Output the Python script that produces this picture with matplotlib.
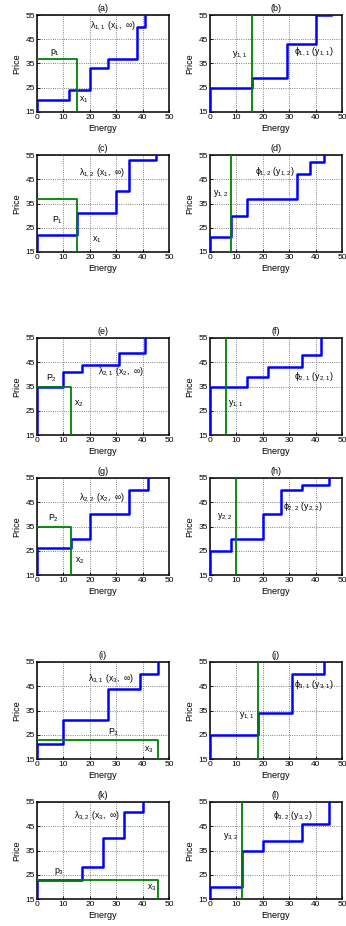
import matplotlib
matplotlib.use("Agg")
from matplotlib import pyplot as plt

plt.rcParams['font.family'] = ['Liberation Sans', 'DejaVu Sans']
plt.rcParams['mathtext.default'] = 'regular'
plt.rcParams['mathtext.fontset'] = 'dejavusans'

# supply / demand step curves: energy break points and price levels (steps-post)
a_energy = [0, 0, 12, 20, 27, 38, 41]
a_price = [15, 20, 24, 33, 37, 50, 55]
b_energy = [0, 0, 16, 29, 40, 46]
b_price = [15, 25, 29, 43, 55, 55]
c_energy = [0, 0, 15, 30, 35, 45]
c_price = [15, 22, 31, 40, 53, 55]
d_energy = [0, 0, 8, 14, 33, 38, 43]
d_price = [15, 21, 30, 37, 47, 52, 55]
e_energy = [0, 0, 10, 17, 31, 41]
e_price = [15, 35, 41, 44, 49, 55]
f_energy = [0, 0, 14, 22, 35, 42]
f_price = [15, 35, 39, 43, 48, 55]
g_energy = [0, 0, 13, 20, 35, 42]
g_price = [15, 26, 30, 40, 50, 55]
h_energy = [0, 0, 8, 20, 27, 35, 45]
h_price = [15, 25, 30, 40, 50, 52, 55]
i_energy = [0, 0, 10, 27, 39, 46]
i_price = [15, 21, 31, 44, 50, 55]
j_energy = [0, 0, 18, 31, 43]
j_price = [15, 25, 34, 50, 55]
k_energy = [0, 0, 17, 25, 33, 40]
k_price = [15, 23, 28, 40, 51, 55]
l_energy = [0, 0, 12, 20, 35, 45]
l_price = [15, 20, 35, 39, 46, 55]

# bids (energy x, price p) for the left column, cleared quantity y for the right
bid_x = [15, 15, 13, 13, 46, 46]
bid_p = [37, 37, 35, 35, 23, 23]
cleared_y = [16, 8, 6, 10, 18, 12]

titles = ['(a)', '(b)', '(c)', '(d)', '(e)', '(f)',
          '(g)', '(h)', '(i)', '(j)', '(k)', '(l)']
curves = [(a_energy, a_price), (b_energy, b_price), (c_energy, c_price),
          (d_energy, d_price), (e_energy, e_price), (f_energy, f_price),
          (g_energy, g_price), (h_energy, h_price), (i_energy, i_price),
          (j_energy, j_price), (k_energy, k_price), (l_energy, l_price)]

# text labels: (text, x, y)
left_labels = [
    [(r'$p_1$', 5, 39.5), (r'$x_1$', 16, 20), (r'$\lambda_{1,1}\ (x_1,\ \infty)$', 20, 50.5)],
    [(r'$P_1$', 5.5, 28), (r'$x_1$', 21, 20), (r'$\lambda_{1,2}\ (x_1,\ \infty)$', 16, 47.5)],
    [(r'$P_2$', 3.5, 38.5), (r'$x_2$', 14, 28), (r'$\lambda_{2,1}\ (x_2,\ \infty)$', 23, 41)],
    [(r'$P_2$', 4, 38.5), (r'$x_2$', 14.5, 21), (r'$\lambda_{2,2}\ (x_2,\ \infty)$', 16, 47)],
    [(r'$P_3$', 27, 26), (r'$x_3$', 40.5, 19), (r'$\lambda_{3,1}\ (x_3,\ \infty)$', 19.5, 48)],
    [(r'$p_3$', 6.5, 26.5), (r'$x_3$', 41.5, 19.5), (r'$\lambda_{3,2}\ (x_3,\ \infty)$', 14, 49.5)],
]
right_labels = [
    [(r'$y_{1,1}$', 8.5, 38.5), (r'$\phi_{1,1}\ (y_{1,1})$', 32, 40)],
    [(r'$y_{1,2}$', 1, 39), (r'$\phi_{1,2}\ (y_{1,2})$', 17, 48)],
    [(r'$y_{1,1}$', 7, 28), (r'$\phi_{2,1}\ (y_{2,1})$', 32, 39)],
    [(r'$y_{2,2}$', 2.5, 39), (r'$\phi_{2,2}\ (y_{2,2})$', 27.5, 43)],
    [(r'$y_{1,1}$', 11, 33), (r'$\phi_{3,1}\ (y_{3,1})$', 32, 45.5)],
    [(r'$y_{3,2}$', 5, 40.5), (r'$\phi_{3,2}\ (y_{3,2})$', 24, 49.5)],
]

W, H = 346, 926
fig = plt.figure(figsize=(W / 100, H / 100), dpi=100)
tops = [15, 155, 338, 478, 662, 802]
lefts = [37, 210]
aw, ah = 132, 97

blue = '#0000ff'
green = '#008000'

for n in range(12):
    row, col = n // 2, n % 2
    ax = fig.add_axes([lefts[col] / W, 1 - (tops[row] + ah) / H, aw / W, ah / H])
    energy, price = curves[n]
    ax.plot(energy, price, drawstyle='steps-post', color=blue, lw=1.8, zorder=3)
    if col == 0:
        x, p = bid_x[row], bid_p[row]
        ax.plot([0, x, x], [p, p, 15], color=green, lw=1.3, zorder=4)
        labels = left_labels[row]
    else:
        ax.axvline(cleared_y[row], color=green, lw=1.3, zorder=4)
        labels = right_labels[row]
    for txt, tx, ty in labels:
        ax.text(tx, ty, txt, fontsize=6.3, ha='left', va='center')

    ax.set_xlim(0, 50)
    ax.set_ylim(15, 55)
    ax.set_xticks(range(0, 51, 10))
    ax.set_yticks(range(15, 56, 10))
    ax.tick_params(direction='in', length=2, width=0.6, labelsize=6, pad=1.5)
    ax.grid(True, linestyle=':', color='0.35', lw=0.6)
    for s in ax.spines.values():
        s.set_linewidth(1.1)
    ax.set_title(titles[n], fontsize=6.5, pad=3)
    ax.set_xlabel('Energy', fontsize=6.5, labelpad=2)
    ax.set_ylabel('Price', fontsize=6.5, labelpad=3)

fig.savefig('out.png', dpi=100)
